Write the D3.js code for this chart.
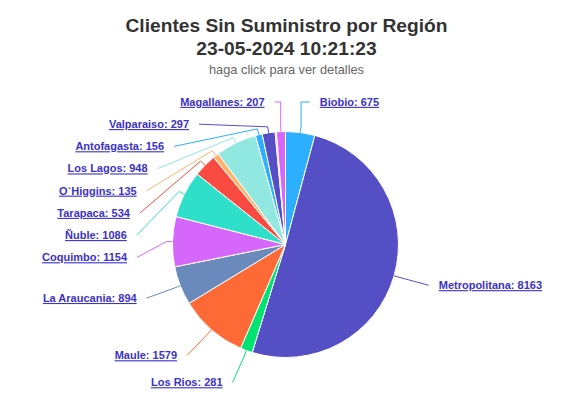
<!DOCTYPE html>
<html><head><meta charset="utf-8">
<script src="https://cdn.jsdelivr.net/npm/d3@7"></script>
<style>
body{margin:0;background:#fff;}
text{font-family:"Liberation Sans",Arial,Helvetica,sans-serif;}
</style></head>
<body><svg id="c" width="573" height="409"></svg>
<script>
const titleLines = ["Clientes Sin Suministro por Región", "23-05-2024 10:21:23"];
const subtitleText = "haga click para ver detalles";
const regions = ["Biobio","Metropolitana","Los Rios","Maule","La Araucania","Coquimbo","Ñuble","Tarapaca","O`Higgins","Los Lagos","Antofagasta","Valparaiso","Atacama","Magallanes"];
const clients = [675,8163,281,1579,894,1154,1086,534,135,948,156,297,30,207];
const sliceColors = ["#2caffe","#544fc5","#00e272","#fe6a35","#6b8abc","#d568fb","#2ee0ca","#fa4b42","#feb56a","#91e8e1","#2caffe","#544fc5","#fe6a35","#d568fb"];
const labelShown = [true,true,true,true,true,true,true,true,true,true,true,true,false,true];

const W = 573, H = 409;
const cx = 285.5, cy = 244.5, r = 113, R = 147, spacing = 22.2, minY = 102;
const svg = d3.select("#c");

svg.append("text").attr("x", W/2).attr("y", 32).attr("text-anchor","middle")
  .style("font-size","19.2px").style("font-weight","bold").attr("fill","#333333").text(titleLines[0]);
svg.append("text").attr("x", W/2).attr("y", 55).attr("text-anchor","middle")
  .style("font-size","19.2px").style("font-weight","bold").attr("fill","#333333").text(titleLines[1]);
svg.append("text").attr("x", W/2).attr("y", 73.5).attr("text-anchor","middle")
  .style("font-size","12.8px").attr("fill","#666666").text(subtitleText);

const data = regions.map((name,i)=>({name, value: clients[i], color: sliceColors[i], show: labelShown[i]}));
const pie = d3.pie().value(d=>d.value).sort(null).startAngle(0).endAngle(2*Math.PI);
const arcs = pie(data);
const arc = d3.arc().innerRadius(0).outerRadius(r);

const g = svg.append("g").attr("transform", `translate(${cx},${cy})`);
g.selectAll("path").data(arcs).join("path")
  .attr("d", arc).attr("fill", d=>d.data.color)
  .attr("stroke","#ffffff").attr("stroke-width",1).attr("stroke-linejoin","round");

// label layout
const labels = arcs.filter(a=>a.data.show).map(a=>{
  const mid = (a.startAngle + a.endAngle)/2;
  return {a, mid, left: mid > Math.PI, nat: cy - R*Math.cos(mid)};
});
["left","right"].forEach(side=>{
  const arr = labels.filter(l => (side==="left") === l.left).sort((p,q)=>p.nat-q.nat);
  let prev = -Infinity;
  arr.forEach(l=>{
    l.y = Math.max(l.nat, prev + spacing, minY);
    l.clamped = l.y - l.nat > 0 && Math.abs(l.y - minY) < 0.01;
    prev = l.y;
  });
});

const lg = svg.append("g");
labels.forEach(l=>{
  const s = l.left ? -1 : 1;
  const dy = (l.clamped ? l.nat : l.y) - cy;
  const dx = Math.sqrt(Math.max(0, R*R - dy*dy));
  const off = l.clamped ? 3 : 0;
  const sx = cx + s*(dx + 2 + off);
  const tx = cx + s*(dx + 12 + off);
  const bx = cx + (r+6)*Math.sin(l.mid), by = cy - (r+6)*Math.cos(l.mid);
  const px = cx + r*Math.sin(l.mid), py = cy - r*Math.cos(l.mid);
  const d = l.clamped
    ? `M${sx},${l.y}L${bx},${l.y}L${bx},${by}L${px},${py}`
    : `M${sx},${l.y}L${bx},${by}L${px},${py}`;
  lg.append("path").attr("d", d)
    .attr("fill","none").attr("stroke", l.a.data.color).attr("stroke-width",1);
  lg.append("text").attr("x", tx).attr("y", l.y).attr("dy","0.35em")
    .attr("text-anchor", l.left ? "end" : "start")
    .style("font-size","11px").style("font-weight","bold")
    .style("text-decoration","underline")
    .attr("fill","#3b32c6")
    .text(`${l.a.data.name}: ${l.a.data.value}`);
});
</script>
</body></html>
